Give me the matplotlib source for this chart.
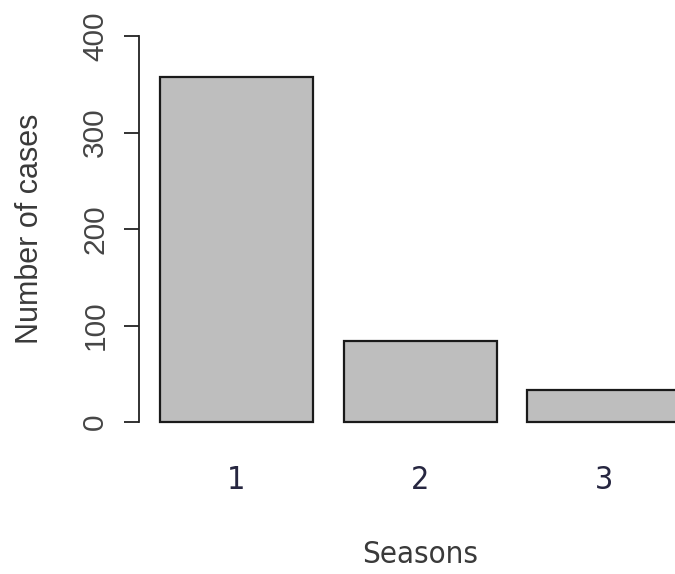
import matplotlib
matplotlib.use("Agg")
import matplotlib.pyplot as plt
from matplotlib import font_manager

# Case counts per season
seasons = ["1", "2", "3"]
cases = [357, 84, 33]
y_ticks = [0, 100, 200, 300, 400]

plt.rcParams["font.family"] = ["Liberation Sans", "DejaVu Sans"]

# Tall, narrow lettering for horizontal labels if a narrow face is installed
_fonts = font_manager.fontManager.ttflist
_names = {f.name for f in _fonts}
narrow_kw = {"family": ["Liberation Sans", "DejaVu Sans"]}
narrow_scale = 1.0
if "Liberation Sans Narrow" in _names:
    narrow_kw = {"family": ["Liberation Sans Narrow", "Liberation Sans"]}
    narrow_scale = 1.2
else:
    for f in _fonts:
        if str(f.stretch) in ("condensed", "semi-condensed") and f.name in (
                "DejaVu Sans", "Noto Sans", "Open Sans", "Liberation Sans"):
            narrow_kw = {"family": [f.name], "stretch": f.stretch}
            narrow_scale = 1.15
            break

W, H = 675, 574
fig = plt.figure(figsize=(W / 100, H / 100), dpi=100)
fig.patch.set_facecolor("white")

# R-style barplot geometry: bar width 1, space 0.2
bar_w = 1.0
space = 0.2
lefts = [space + i * (bar_w + space) for i in range(len(cases))]
centers = [l + bar_w / 2 for l in lefts]

xlim = (0.06, 3.74)
ylim = (-16, 416)

# axes box in pixels
px_per_x = 153.0
px_per_y = 0.965
left_px = 138.5
bottom_px = 422 + 16 * px_per_y
top_px = 422 - 416 * px_per_y
width_px = (xlim[1] - xlim[0]) * px_per_x
ax = fig.add_axes([left_px / W, (H - bottom_px) / H, width_px / W,
                   (bottom_px - top_px) / H])

ax.bar(lefts, cases, width=bar_w, align="edge", color="#bebebe",
       edgecolor="#1a1a1a", linewidth=1.6)

ax.set_xlim(*xlim)
ax.set_ylim(*ylim)

for s in ("top", "right", "bottom"):
    ax.spines[s].set_visible(False)
ax.spines["left"].set_bounds(0, 400)
ax.spines["left"].set_linewidth(1.3)
ax.spines["left"].set_color("#222222")

ax.set_yticks(y_ticks)
ax.set_yticklabels([str(v) for v in y_ticks], rotation=90, va="center",
                   fontsize=21.5, color="#454545")
ax.tick_params(axis="y", length=11, width=1.3, color="#222222", pad=10)

ax.set_xticks(centers)
ax.set_xticklabels(seasons, fontsize=20 * narrow_scale, color="#262640",
                   **narrow_kw)
ax.tick_params(axis="x", length=0, pad=20)

ax.set_ylabel("Number of cases", fontsize=22, color="#3a3a3a")
ax.yaxis.set_label_coords(-0.166, 0.5)
ax.set_xlabel("Seasons", fontsize=19.5 * narrow_scale, color="#3a3a3a",
              **narrow_kw)
ax.xaxis.set_label_coords(0.5, -0.245)

fig.savefig("out.png", dpi=100, facecolor="white")
